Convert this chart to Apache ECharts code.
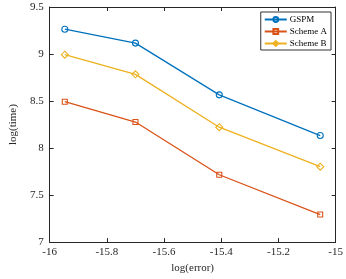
<!DOCTYPE html>
<html><head><meta charset="utf-8">
<script src="https://cdn.jsdelivr.net/npm/echarts@6/dist/echarts.min.js"></script>
<style>html,body{margin:0;padding:0;background:#fff}#c{width:346px;height:279px}</style>
</head><body><div id="c"></div>
<script>
const xValues = [-15.947, -15.70, -15.407, -15.054];
const gspm = [9.264, 9.116, 8.566, 8.133];
const schemeA = [8.493, 8.277, 7.716, 7.293];
const schemeB = [8.993, 8.784, 8.222, 7.802];
const seriesNames = ['GSPM', 'Scheme A', 'Scheme B'];
const colors = ['#0072BD', '#D95319', '#EDB120'];
const symbols = ['circle', 'rect', 'diamond'];
const font = 'Liberation Serif';
const txt = '#262626';

const chart = echarts.init(document.getElementById('c'), null, {renderer: 'canvas'});
function mk(name, data, i) {
  return {
    name: name, type: 'line', xAxisIndex: 0, yAxisIndex: 0,
    data: xValues.map((x, k) => [x, data[k]]),
    symbol: symbols[i], symbolSize: i === 1 ? 5 : (i === 2 ? 7 : 6),
    lineStyle: {color: colors[i], width: 1.3},
    itemStyle: {color: 'rgba(255,255,255,0)', borderColor: colors[i], borderWidth: 1.1},
    animation: false
  };
}
const axisCommon = {
  axisLine: {show: true, lineStyle: {color: txt, width: 1}},
  axisTick: {show: true, inside: true, length: 4, lineStyle: {color: txt}},
  splitLine: {show: false}
};
chart.setOption({
  backgroundColor: '#fff',
  animation: false,
  grid: {left: 35, right: 8, top: 7, bottom: 32},
  legend: {
    data: seriesNames,
    orient: 'vertical', right: 15, top: 12,
    itemWidth: 22, itemHeight: 6, itemGap: 3,
    padding: [3, 4, 2, 3],
    borderColor: '#333', borderWidth: 1, backgroundColor: '#fff',
    textStyle: {fontFamily: font, fontSize: 9, color: '#000', padding: [0, 0, 0, -2]}
  },
  xAxis: [
    Object.assign({type: 'value', min: -16, max: -15, interval: 0.2, position: 'bottom',
      name: 'log(error)', nameLocation: 'middle', nameGap: 18,
      nameTextStyle: {fontFamily: font, fontSize: 11, color: txt},
      axisLabel: {fontFamily: font, fontSize: 11, color: txt, margin: 5,
        formatter: v => (Math.round(v * 10) / 10).toString()}}, axisCommon),
    Object.assign({type: 'value', min: -16, max: -15, interval: 0.2, position: 'top',
      axisLabel: {show: false}}, axisCommon)
  ],
  yAxis: [
    Object.assign({type: 'value', min: 7, max: 9.5, interval: 0.5, position: 'left',
      name: 'log(time)', nameLocation: 'middle', nameGap: 24,
      nameTextStyle: {fontFamily: font, fontSize: 11, color: txt},
      axisLabel: {fontFamily: font, fontSize: 11, color: txt, margin: 6,
        formatter: v => (Math.round(v * 10) / 10).toString()}}, axisCommon),
    Object.assign({type: 'value', min: 7, max: 9.5, interval: 0.5, position: 'right',
      axisLabel: {show: false}}, axisCommon)
  ],
  series: [mk(seriesNames[0], gspm, 0), mk(seriesNames[1], schemeA, 1), mk(seriesNames[2], schemeB, 2)]
});
</script></body></html>
